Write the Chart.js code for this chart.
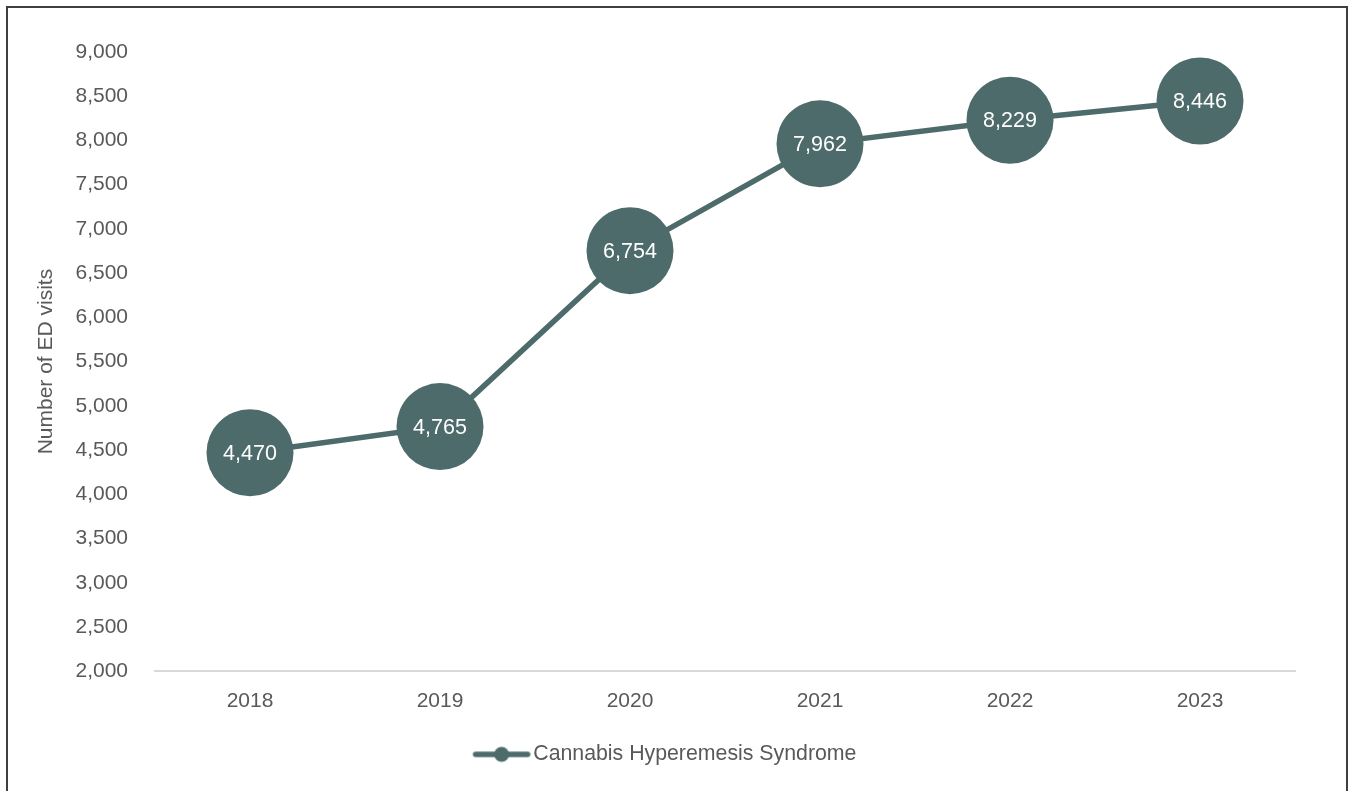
<!DOCTYPE html>
<html>
<head>
<meta charset="utf-8">
<script src="https://cdn.jsdelivr.net/npm/chart.js@4/dist/chart.umd.min.js"></script>
<style>
	html, body { margin: 0; padding: 0; background: #fff; overflow: hidden; }
	#wrap { position: relative; width: 1351px; height: 791px; }
	#frame { position: absolute; left: 6px; top: 6px; width: 1338px; height: 820px; border: 2px solid #3f3f3f; pointer-events: none; }
</style>
</head>
<body>
<div id="wrap">
	<canvas id="ed-chart" width="1351" height="791"></canvas>
	<div id="frame"></div>
</div>
<script>
var years = ['2018', '2019', '2020', '2021', '2022', '2023'];
var chsVisits = [4470, 4765, 6754, 7962, 8229, 8446];
var seriesName = 'Cannabis Hyperemesis Syndrome';
var yTitle = 'Number of ED visits';

var teal = '#4d6b6a';
var grey = '#595959';
var fontFamily = '"Liberation Sans", Arial, sans-serif';

// legend marker: line with a dot in the middle (shifted right inside the image)
var marker = document.createElement('canvas');
marker.width = 80;
marker.height = 18;
(function() {
	var c = marker.getContext('2d');
	c.strokeStyle = teal;
	c.lineWidth = 5.5;
	c.lineCap = 'round';
	c.beginPath();
	c.moveTo(24, 9);
	c.lineTo(76, 9);
	c.stroke();
	c.fillStyle = teal;
	c.beginPath();
	c.arc(50, 9, 7.5, 0, Math.PI * 2);
	c.fill();
})();

// white value labels in the middle of each point
var valueLabels = {
	id: 'valueLabels',
	afterDatasetsDraw: function(chart) {
		var ctx = chart.ctx;
		var meta = chart.getDatasetMeta(0);
		ctx.save();
		ctx.fillStyle = '#ffffff';
		ctx.font = '21.5px ' + fontFamily;
		ctx.textAlign = 'center';
		ctx.textBaseline = 'middle';
		meta.data.forEach(function(pt, i) {
			ctx.fillText(chsVisits[i].toLocaleString('en-US'), pt.x, pt.y + 1);
		});
		ctx.restore();
	}
};

Chart.defaults.font.family = fontFamily;
Chart.defaults.font.size = 21;
Chart.defaults.color = grey;

new Chart(document.getElementById('ed-chart'), {
	type: 'line',
	data: {
		labels: years,
		datasets: [{
			label: seriesName,
			data: chsVisits,
			borderColor: teal,
			backgroundColor: teal,
			borderWidth: 5.5,
			pointRadius: 43.5,
			pointBackgroundColor: teal,
			pointBorderWidth: 0,
			tension: 0
		}]
	},
	options: {
		responsive: false,
		animation: false,
		events: [],
		layout: { padding: { top: 52, right: 56, left: 22, bottom: 16 } },
		plugins: {
			tooltip: { enabled: false },
			legend: {
				position: 'bottom',
				labels: {
					usePointStyle: true,
					pointStyleWidth: 62,
					padding: 17.5,
					color: grey,
					font: { size: 21.3 },
					generateLabels: function(chart) {
						return [{
							text: seriesName,
							pointStyle: marker,
							fillStyle: teal,
							strokeStyle: teal,
							lineWidth: 0,
							datasetIndex: 0,
							fontColor: grey
						}];
					}
				}
			}
		},
		scales: {
			x: {
				offset: true,
				grid: { display: false, drawTicks: false },
				border: { display: true, color: '#d9d9d9', width: 2 },
				ticks: { padding: 17, color: grey },
				afterFit: function(s) { s.height = 55; }
			},
			y: {
				min: 2000,
				max: 9000,
				grid: { display: false, drawTicks: false },
				border: { display: false },
				ticks: {
					stepSize: 500,
					padding: 27,
					color: grey,
					callback: function(v) { return v.toLocaleString('en-US'); }
				},
				title: {
					display: true,
					text: yTitle,
					color: grey,
					font: { size: 21 },
					padding: { top: 12, bottom: 0 }
				},
				afterFit: function(s) { s.width = 133; }
			}
		}
	},
	plugins: [valueLabels]
});
</script>
</body>
</html>
